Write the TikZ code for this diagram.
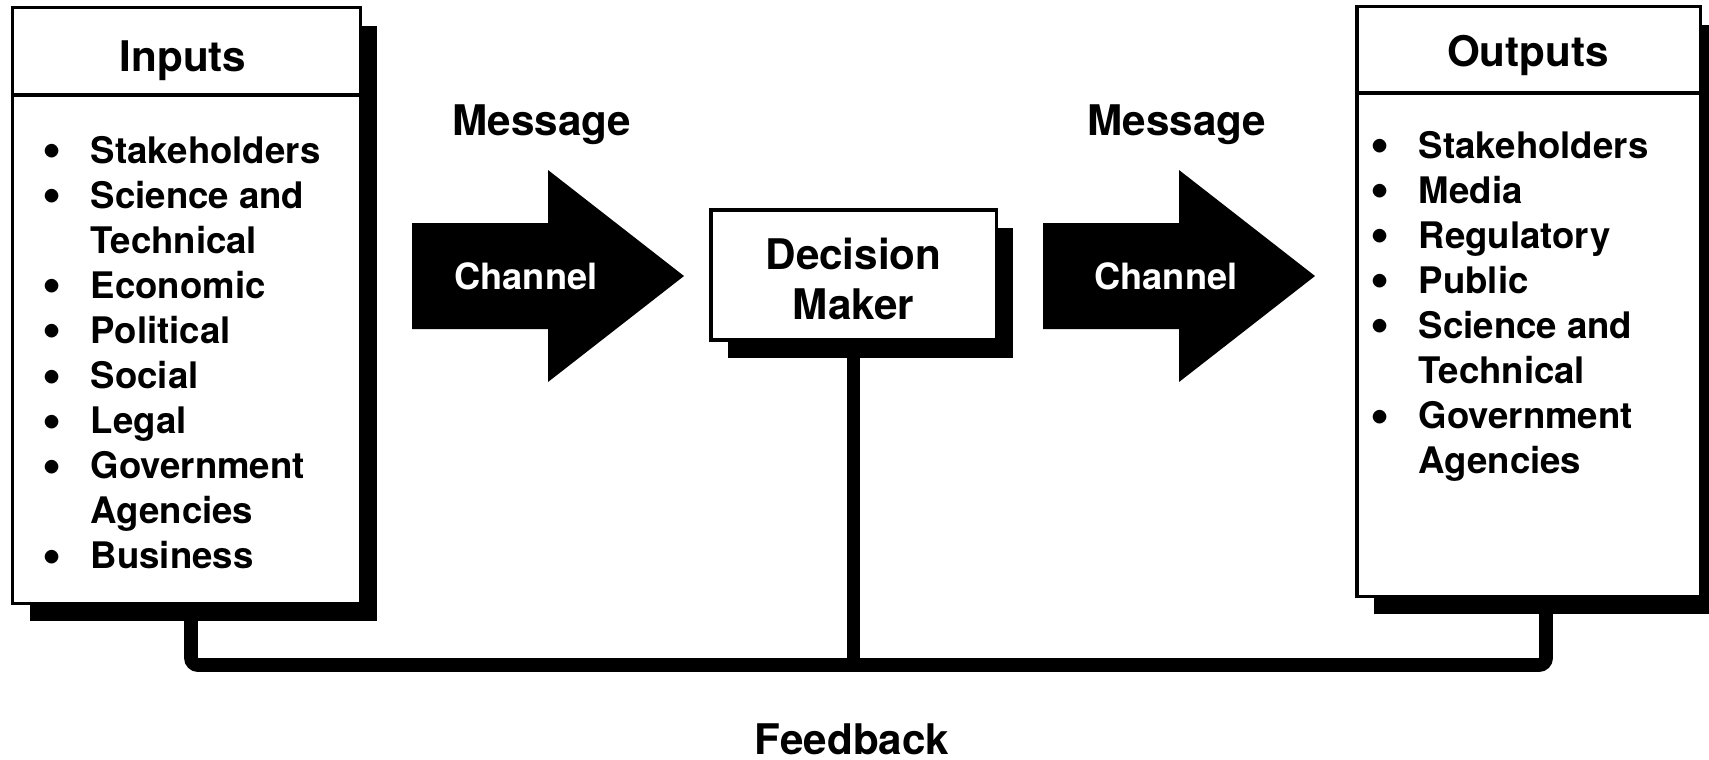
\documentclass[tikz,border=0pt]{standalone}
\usepackage{fontspec}
\setmainfont{TeX Gyre Heros}
\usetikzlibrary{positioning,shadows,calc}

\newcommand{\itbul}{\raisebox{-1.4pt}{\fontsize{15.5}{12.8}\selectfont\textbullet}}

\tikzset{
  panel/.style={draw, line width=0.9pt, fill=white, inner sep=0pt,
    drop shadow={shadow xshift=0.17cm, shadow yshift=-0.18cm, fill=black, opacity=1}},
  fb/.style={line width=3.9pt, rounded corners=2pt},
  headtxt/.style={font=\fontsize{12}{14.2}\selectfont\bfseries, inner sep=0pt},
  chantxt/.style={font=\fontsize{10.3}{12}\selectfont\bfseries, text=white, inner sep=0pt},
  itemlist/.style={font=\fontsize{10.4}{12.8}\selectfont\bfseries, anchor=base west, inner sep=0pt},
}

\begin{document}
\begin{tikzpicture}[x=0.01cm,y=-0.01cm]
  \useasboundingbox (0,0) rectangle (1709,759);

  % boxes
  \node[panel, minimum width=3.47cm, minimum height=5.95cm] (inputs) at (186.5,305.5) {};
  \node[panel, minimum width=3.43cm, minimum height=5.89cm] (outputs) at (1528.5,301.5) {};
  \node[panel, minimum width=2.85cm, minimum height=1.30cm, align=center,
        font=\fontsize{12}{14.2}\selectfont\bfseries] (dm) at (853.5,275) {\rule{0pt}{11.4pt}Decision\\Maker};
  \draw[line width=0.9pt] (inputs.west |- 0,95) -- (inputs.east |- 0,95);
  \draw[line width=0.9pt] (outputs.west |- 0,93) -- (outputs.east |- 0,93);
  \node[headtxt] (intitle) at (183,61) {Inputs};
  \node[headtxt] (outtitle) at (1528,55) {Outputs};

  \node[itemlist] (inlist) at (42,163) {\begin{tabular}[t]{@{}p{13.7pt}@{}l@{}}
    \itbul & Stakeholders\\
    \itbul & Science and\\
           & Technical\\
    \itbul & Economic\\
    \itbul & Political\\
    \itbul & Social\\
    \itbul & Legal\\
    \itbul & Government\\
           & Agencies\\
    \itbul & Business
  \end{tabular}};
  \node[itemlist] (outlist) at (1370,158) {\begin{tabular}[t]{@{}p{13.7pt}@{}l@{}}
    \itbul & Stakeholders\\
    \itbul & Media\\
    \itbul & Regulatory\\
    \itbul & Public\\
    \itbul & Science and\\
           & Technical\\
    \itbul & Government\\
           & Agencies
  \end{tabular}};

  % channels
  \foreach \ax in {412,1043}
    \fill (\ax,223) -- ++(136,0) -- ++(0,-53) -- ++(136,106) -- ++(-136,106) -- ++(0,-53) -- ++(-136,0) -- cycle;
  \node[chantxt] (chan1) at (526,276) {Channel};
  \node[chantxt] (chan2) at (1166,276) {Channel};
  \node[headtxt] (msg1) at (542,125) {Message};
  \node[headtxt] (msg2) at (1177,125) {Message};

  % feedback
  \coordinate (fbl) at (191,665);
  \coordinate (fbr) at (1546,665);
  \draw[fb] (inputs.south -| fbl) -- (fbl) -- (fbr) -- (outputs.south -| fbr);
  \draw[fb] (dm.south) -- (dm.south |- fbl);
  \node[headtxt] (fblabel) at (852,739) {Feedback};
\end{tikzpicture}
\end{document}
